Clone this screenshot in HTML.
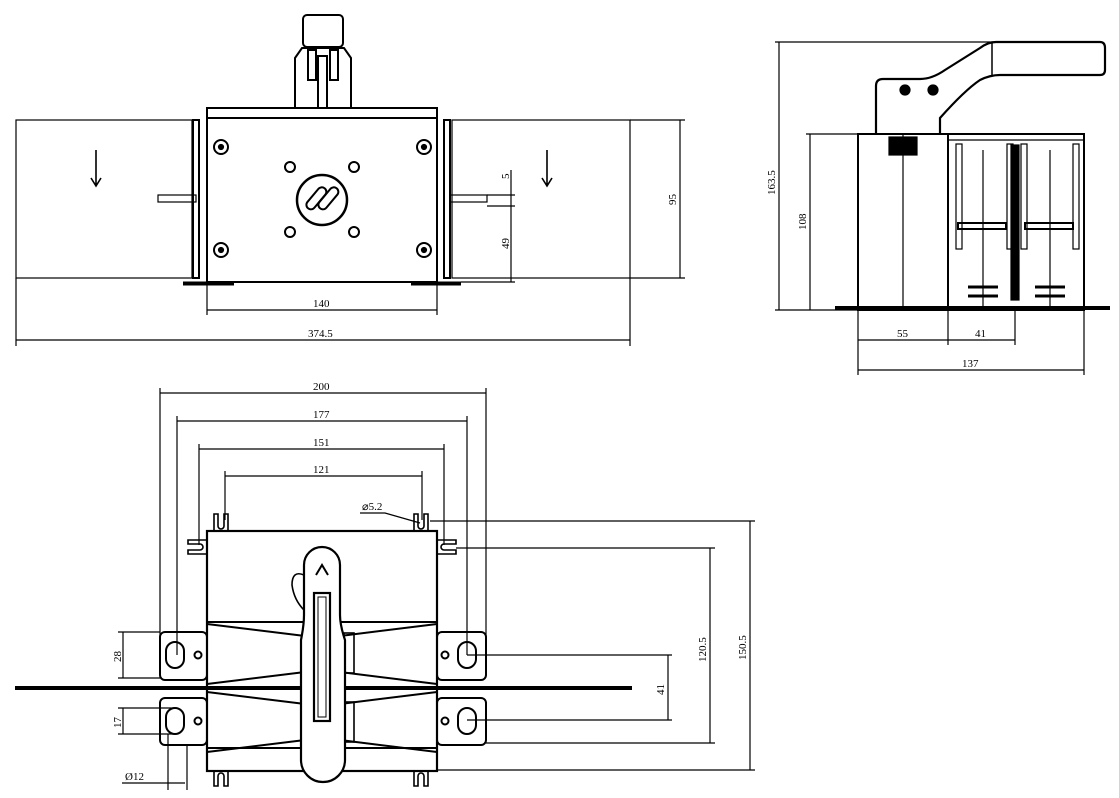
<!DOCTYPE html>
<html><head><style>
html,body{margin:0;padding:0;background:#fff;}
svg{display:block;}
svg text{font-family:"Liberation Serif",serif;font-size:11px;fill:#000;stroke:none;}
</style></head><body>
<svg width="1119" height="798" viewBox="0 0 1119 798" xmlns="http://www.w3.org/2000/svg" fill="none" stroke="#000" stroke-width="1.2">
<!-- ===== TOP-LEFT VIEW ===== -->
<rect x="16" y="120" width="176" height="158"/>
<rect x="452" y="120" width="178" height="158"/>
<path d="M96 150V185M91 178L96 186L101 178" stroke-width="1.6"/>
<path d="M547 150V185M542 178L547 186L552 178" stroke-width="1.6"/>
<rect x="158" y="195" width="38" height="7"/>
<rect x="450" y="195" width="37" height="7"/>
<rect x="193" y="120" width="6" height="158" stroke-width="2"/>
<rect x="444" y="120" width="6" height="158" stroke-width="2"/>
<rect x="207" y="108" width="230" height="10" stroke-width="2"/>
<rect x="207" y="118" width="230" height="164" stroke-width="2"/>
<line x1="183" y1="283.5" x2="234" y2="283.5" stroke-width="4"/>
<line x1="411" y1="283.5" x2="461" y2="283.5" stroke-width="4"/>
<!-- handle top -->
<rect x="303" y="15" width="40" height="32" rx="4" stroke-width="2"/>
<path d="M295 108V58L302 48H344L351 58V108" stroke-width="2"/>
<rect x="308" y="50" width="8" height="30" stroke-width="2"/>
<rect x="330" y="50" width="8" height="30" stroke-width="2"/>
<rect x="318" y="56" width="9" height="52" stroke-width="2"/>
<circle cx="221" cy="147" r="7" stroke-width="2"/><circle cx="221" cy="147" r="2.5" fill="#000"/>
<circle cx="424" cy="147" r="7" stroke-width="2"/><circle cx="424" cy="147" r="2.5" fill="#000"/>
<circle cx="221" cy="250" r="7" stroke-width="2"/><circle cx="221" cy="250" r="2.5" fill="#000"/>
<circle cx="424" cy="250" r="7" stroke-width="2"/><circle cx="424" cy="250" r="2.5" fill="#000"/>
<circle cx="290" cy="167" r="5" stroke-width="2"/><circle cx="354" cy="167" r="5" stroke-width="2"/>
<circle cx="290" cy="232" r="5" stroke-width="2"/><circle cx="354" cy="232" r="5" stroke-width="2"/>
<circle cx="322" cy="200" r="25" stroke-width="2.5"/>
<rect x="303" y="194" width="26" height="9" rx="4.5" transform="rotate(-50 316 198)" stroke-width="2"/>
<rect x="315" y="194" width="26" height="9" rx="4.5" transform="rotate(-50 328 198)" stroke-width="2"/>
<!-- dims -->
<line x1="630" y1="120" x2="685" y2="120"/><line x1="630" y1="278" x2="685" y2="278"/>
<line x1="680" y1="120" x2="680" y2="278"/>
<text transform="translate(676 205) rotate(-90)">95</text>
<line x1="511" y1="170" x2="511" y2="282"/>
<line x1="487" y1="195" x2="515" y2="195"/><line x1="487" y1="206" x2="515" y2="206"/>
<line x1="461" y1="282" x2="515" y2="282"/>
<text transform="translate(509 179) rotate(-90)">5</text>
<text transform="translate(509 249) rotate(-90)">49</text>
<line x1="207" y1="282" x2="207" y2="315"/><line x1="437" y1="282" x2="437" y2="315"/>
<line x1="207" y1="310" x2="437" y2="310"/>
<text x="313" y="307">140</text>
<line x1="16" y1="278" x2="16" y2="346"/><line x1="630" y1="278" x2="630" y2="346"/>
<line x1="16" y1="340" x2="630" y2="340"/>
<text x="308" y="337">374.5</text>

<!-- ===== RIGHT VIEW ===== -->
<line x1="775" y1="42" x2="1000" y2="42"/>
<line x1="775" y1="310" x2="860" y2="310"/>
<line x1="779" y1="42" x2="779" y2="310"/>
<text transform="translate(775 195) rotate(-90)">163.5</text>
<line x1="806" y1="134" x2="860" y2="134"/>
<line x1="810" y1="134" x2="810" y2="310"/>
<text transform="translate(806 230) rotate(-90)">108</text>
<path d="M876 134V86Q876 79 883 79H920Q932 79 945 70L980 48Q988 42 996 42H1100Q1105 42 1105 48V70Q1105 75 1100 75H1000Q990 75 980 80Q965 90 940 118V134" stroke-width="2.2"/>
<line x1="992" y1="42" x2="992" y2="75" stroke-width="1.5"/>
<circle cx="905" cy="90" r="5" fill="#000"/><circle cx="933" cy="90" r="5" fill="#000"/>
<rect x="858" y="134" width="90" height="176" stroke-width="2"/>
<line x1="903" y1="134" x2="903" y2="310"/>
<rect x="889" y="137" width="28" height="18" fill="#000"/>
<rect x="948" y="134" width="136" height="176" stroke-width="2"/>
<line x1="948" y1="140" x2="1084" y2="140"/>
<rect x="956" y="144" width="6" height="105"/><rect x="1007" y="144" width="6" height="105"/>
<rect x="1021" y="144" width="6" height="105"/><rect x="1073" y="144" width="6" height="105"/>
<rect x="1011" y="145" width="8" height="155" fill="#000"/>
<line x1="983" y1="150" x2="983" y2="310"/><line x1="1050" y1="150" x2="1050" y2="310"/>
<rect x="958" y="223" width="48" height="6" stroke-width="2"/><rect x="1025" y="223" width="48" height="6" stroke-width="2"/>
<line x1="968" y1="287" x2="998" y2="287" stroke-width="3"/><line x1="968" y1="296" x2="998" y2="296" stroke-width="3"/>
<line x1="1035" y1="287" x2="1065" y2="287" stroke-width="3"/><line x1="1035" y1="296" x2="1065" y2="296" stroke-width="3"/>
<line x1="835" y1="308" x2="1110" y2="308" stroke-width="4"/>
<line x1="858" y1="310" x2="858" y2="375"/><line x1="948" y1="310" x2="948" y2="345"/>
<line x1="1015" y1="310" x2="1015" y2="345"/><line x1="1084" y1="310" x2="1084" y2="375"/>
<line x1="858" y1="340" x2="1015" y2="340"/>
<text x="897" y="337">55</text><text x="975" y="337">41</text>
<line x1="858" y1="370" x2="1084" y2="370"/>
<text x="962" y="367">137</text>

<!-- ===== BOTTOM VIEW ===== -->
<line x1="160" y1="393" x2="486" y2="393"/><text x="313" y="390">200</text>
<line x1="177" y1="421" x2="467" y2="421"/><text x="313" y="418">177</text>
<line x1="199" y1="449" x2="444" y2="449"/><text x="313" y="446">151</text>
<line x1="225" y1="476" x2="422" y2="476"/><text x="313" y="473">121</text>
<line x1="160" y1="388" x2="160" y2="640"/><line x1="486" y1="388" x2="486" y2="640"/>
<line x1="177" y1="416" x2="177" y2="655"/><line x1="467" y1="416" x2="467" y2="655"/>
<line x1="199" y1="444" x2="199" y2="545"/><line x1="444" y1="444" x2="444" y2="545"/>
<line x1="225" y1="471" x2="225" y2="520"/><line x1="422" y1="471" x2="422" y2="520"/>
<text x="362" y="510">⌀5.2</text>
<path d="M360 513H385L420 523"/>
<rect x="207" y="531" width="230" height="240" stroke-width="2.2"/>
<line x1="207" y1="622" x2="437" y2="622" stroke-width="2"/>
<line x1="207" y1="748" x2="437" y2="748" stroke-width="2"/>
<!-- slot tabs -->
<path d="M214 531V514h4v12a3 3 0 0 0 6 0V514h4v17" stroke-width="1.6"/>
<path d="M414 531V514h4v12a3 3 0 0 0 6 0V514h4v17" stroke-width="1.6"/>
<path d="M214 771V786h4v-10a3 3 0 0 1 6 0V786h4v-15" stroke-width="1.6"/>
<path d="M414 771V786h4v-10a3 3 0 0 1 6 0V786h4v-15" stroke-width="1.6"/>
<path d="M207 540H188v4h12a3 3 0 0 1 0 6H188v4h19" stroke-width="1.6"/>
<path d="M437 540H456v4h-12a3 3 0 0 0 0 6H456v4h-19" stroke-width="1.6"/>
<!-- ears -->
<rect x="160" y="632" width="47" height="48" rx="5" stroke-width="2"/>
<rect x="160" y="698" width="47" height="47" rx="5" stroke-width="2"/>
<rect x="437" y="632" width="49" height="48" rx="5" stroke-width="2"/>
<rect x="437" y="698" width="49" height="47" rx="5" stroke-width="2"/>
<rect x="166" y="642" width="18" height="26" rx="9" stroke-width="2"/>
<rect x="166" y="708" width="18" height="26" rx="9" stroke-width="2"/>
<rect x="458" y="642" width="18" height="26" rx="9" stroke-width="2"/>
<rect x="458" y="708" width="18" height="26" rx="9" stroke-width="2"/>
<circle cx="198" cy="655" r="3.5" stroke-width="2"/><circle cx="198" cy="721" r="3.5" stroke-width="2"/>
<circle cx="445" cy="655" r="3.5" stroke-width="2"/><circle cx="445" cy="721" r="3.5" stroke-width="2"/>
<!-- bar -->
<line x1="15" y1="688" x2="632" y2="688" stroke-width="4"/>
<!-- diagonal contacts -->
<path d="M207 624L305 636M207 684L305 672M207 692L305 704M207 752L305 740" stroke-width="2"/>
<path d="M437 624L340 636M437 684L340 672M437 692L340 704M437 752L340 740" stroke-width="2"/>
<rect x="344" y="633" width="10" height="40" stroke-width="1.6"/>
<rect x="344" y="702" width="10" height="40" stroke-width="1.6"/>
<!-- handle -->
<path d="M304 565A18 18 0 0 1 340 565V615Q340 625 345 640V760A22 22 0 0 1 301 760V640Q304 625 304 615Z" fill="#fff" stroke-width="2.2"/>
<path d="M304 575Q292 570 292 585Q294 600 304 610" stroke-width="1.6"/>
<path d="M316 575L322 565L328 575" stroke-width="2"/>
<rect x="314" y="593" width="16" height="128" stroke-width="2.2"/>
<rect x="318" y="597" width="8" height="120" stroke-width="1"/>
<!-- right dims -->
<line x1="430" y1="521" x2="755" y2="521"/>
<line x1="456" y1="548" x2="715" y2="548"/>
<line x1="467" y1="655" x2="672" y2="655"/>
<line x1="467" y1="720" x2="672" y2="720"/>
<line x1="486" y1="743" x2="715" y2="743"/>
<line x1="437" y1="770" x2="755" y2="770"/>
<line x1="750" y1="521" x2="750" y2="770"/>
<line x1="710" y1="548" x2="710" y2="743"/>
<line x1="668" y1="655" x2="668" y2="720"/>
<text transform="translate(746 660) rotate(-90)">150.5</text>
<text transform="translate(706 662) rotate(-90)">120.5</text>
<text transform="translate(664 695) rotate(-90)">41</text>
<!-- left dims -->
<line x1="118" y1="632" x2="160" y2="632"/><line x1="118" y1="678" x2="160" y2="678"/>
<line x1="123" y1="632" x2="123" y2="678"/>
<text transform="translate(121 662) rotate(-90)">28</text>
<line x1="118" y1="708" x2="175" y2="708"/><line x1="118" y1="734" x2="175" y2="734"/>
<line x1="123" y1="708" x2="123" y2="734"/>
<text transform="translate(121 728) rotate(-90)">17</text>
<line x1="168" y1="734" x2="168" y2="790"/><line x1="187" y1="745" x2="187" y2="790"/>
<line x1="122" y1="783" x2="185" y2="783"/>
<text x="125" y="780">Ø12</text>
</svg>
</body></html>
